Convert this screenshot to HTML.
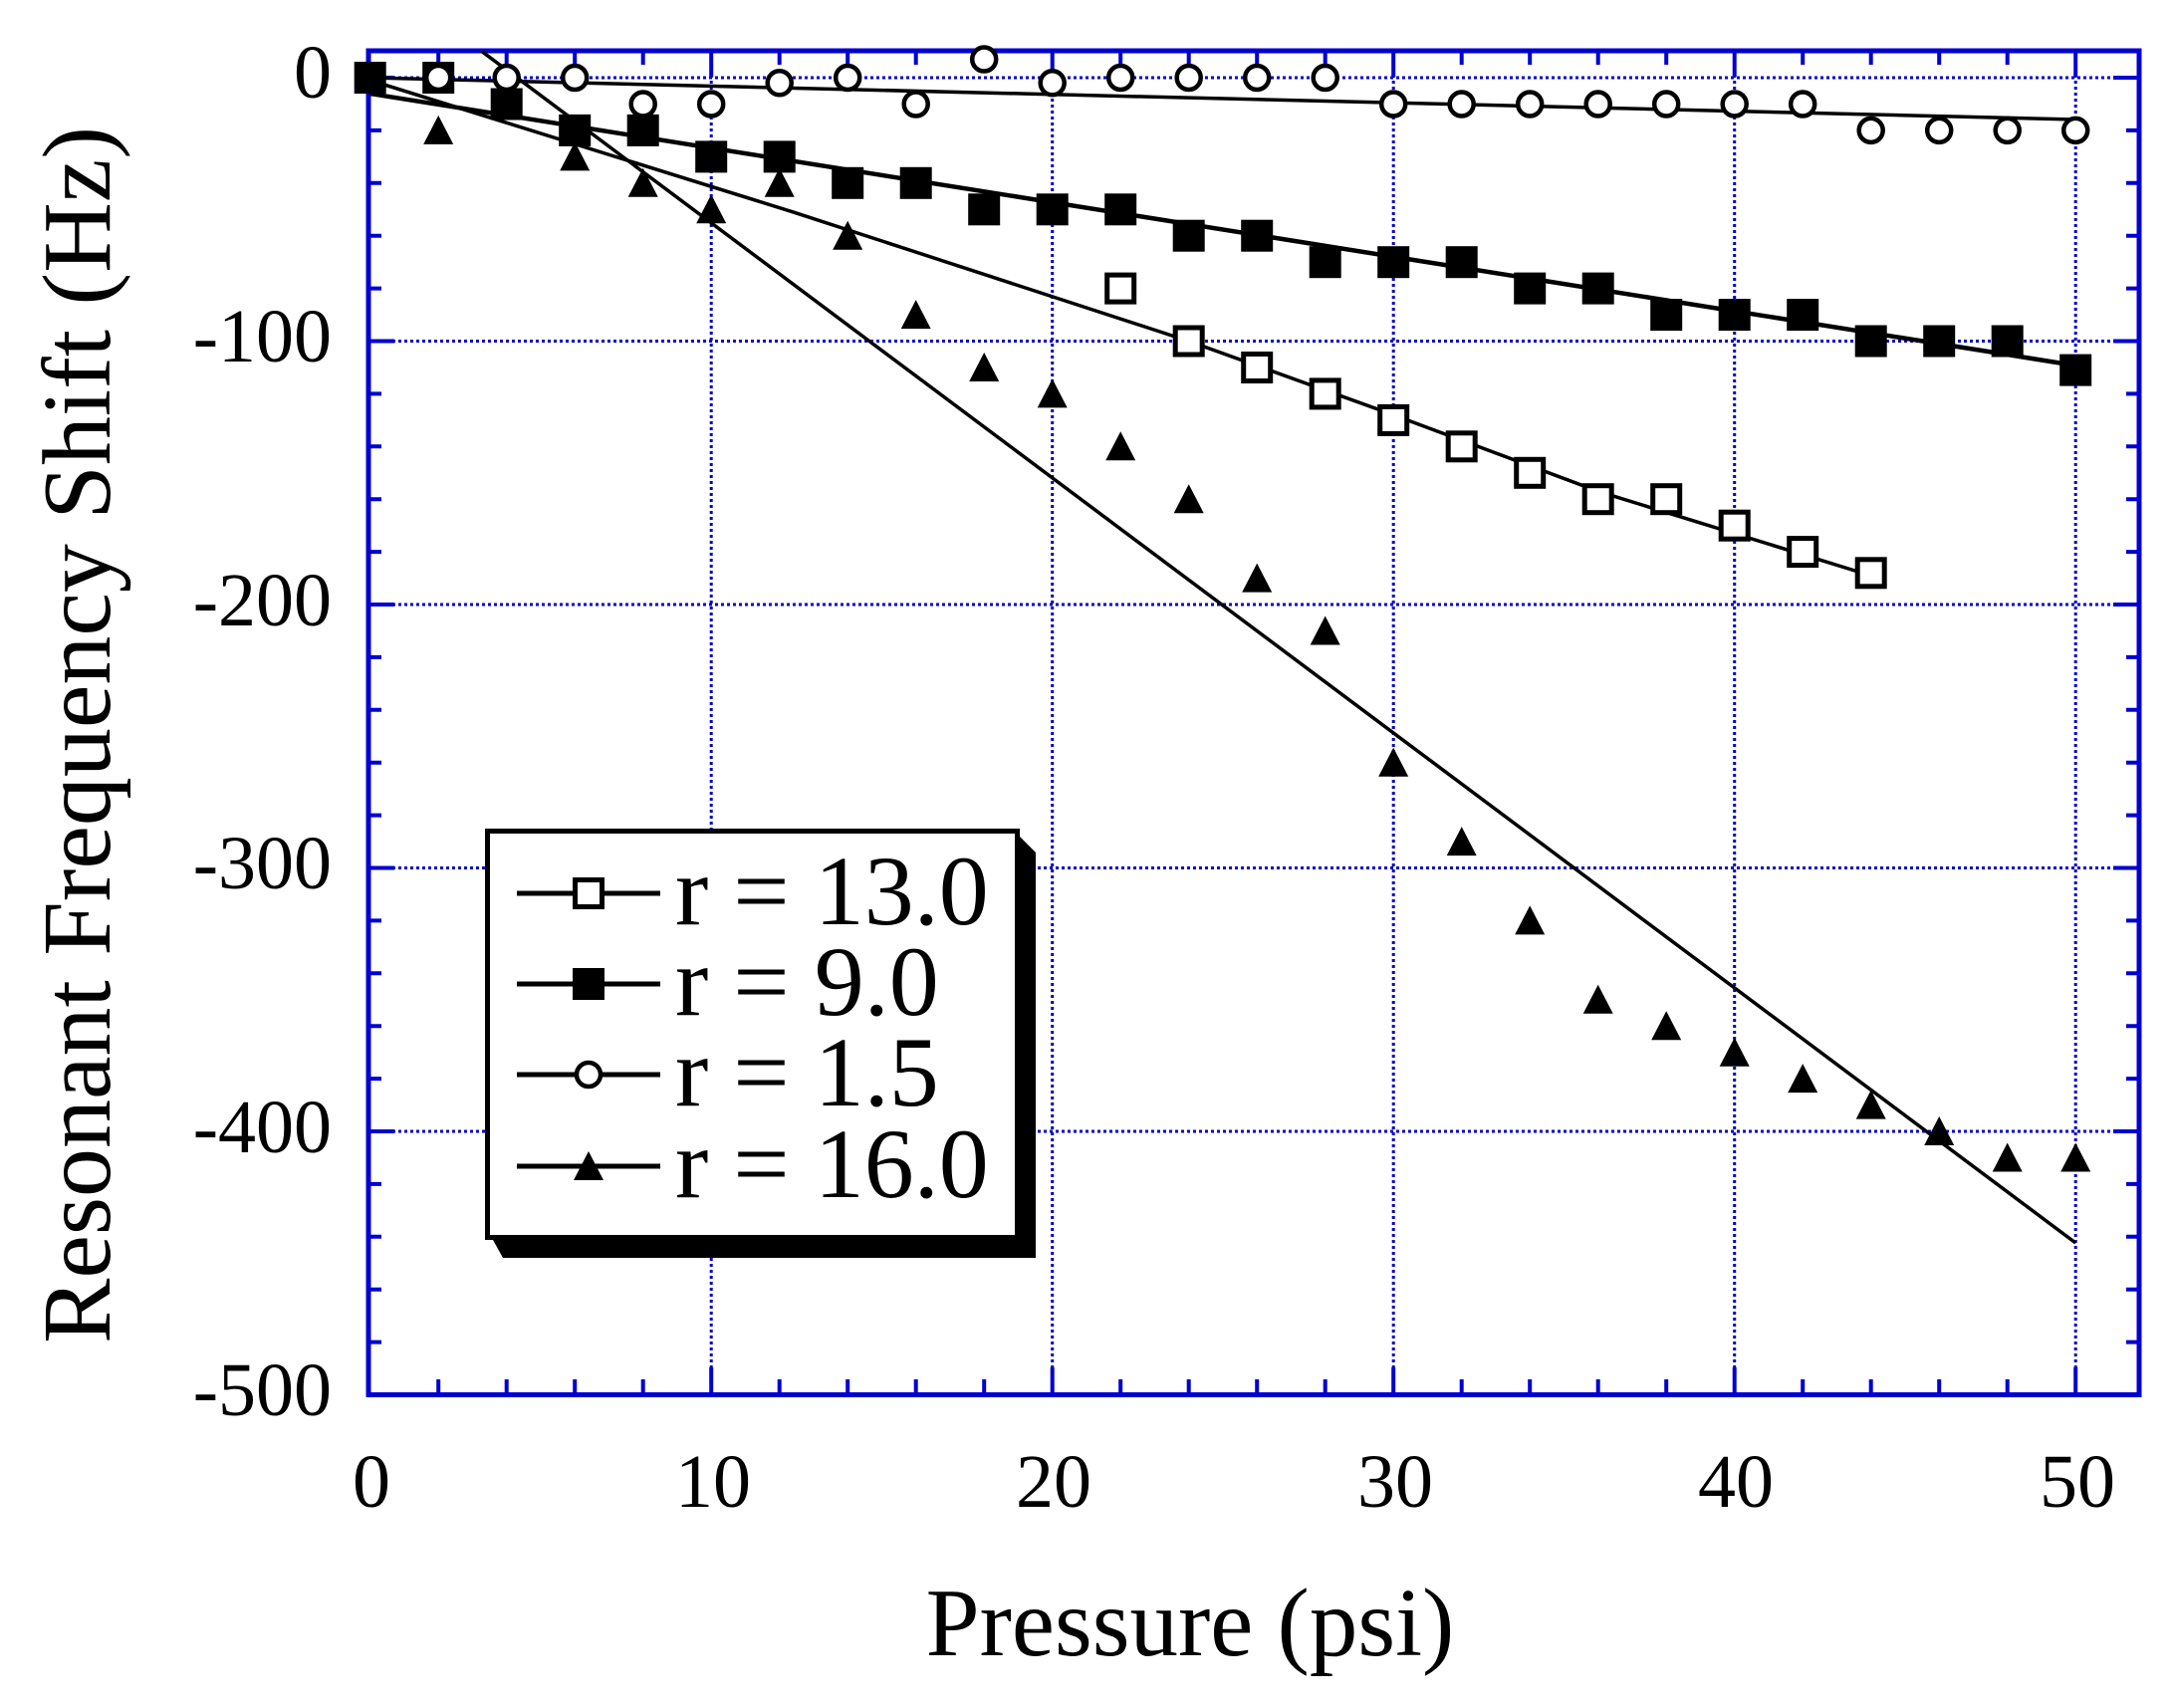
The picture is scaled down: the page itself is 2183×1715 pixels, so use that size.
<!DOCTYPE html>
<html><head><meta charset="utf-8"><style>
html,body{margin:0;padding:0;background:#fff;}
svg{display:block;}
text{font-family:"Liberation Serif",serif;fill:#000;}
</style></head><body>
<svg width="2183" height="1715" viewBox="0 0 2183 1715" xmlns="http://www.w3.org/2000/svg">
<defs>
<rect id="sqf" x="-16" y="-16" width="32" height="32" fill="#000"/>
<rect id="sqo" x="-13.5" y="-13.5" width="27" height="27" fill="#fff" stroke="#000" stroke-width="5"/>
<circle id="ci" r="12" fill="#fff" stroke="#000" stroke-width="4.5"/>
<polygon id="tr" points="0,-15 15,14 -15,14" fill="#000"/>
</defs>
<!-- grid -->
<g stroke="#0000d0" stroke-width="3" stroke-dasharray="3,3" fill="none">
<line x1="714.2" y1="51" x2="714.2" y2="1400"/>
<line x1="1056.7" y1="51" x2="1056.7" y2="1400"/>
<line x1="1399.2" y1="51" x2="1399.2" y2="1400"/>
<line x1="1741.7" y1="51" x2="1741.7" y2="1400"/>
<line x1="2084.2" y1="51" x2="2084.2" y2="1400"/>
<line x1="370" y1="78" x2="2148" y2="78"/>
<line x1="370" y1="342.5" x2="2148" y2="342.5"/>
<line x1="370" y1="607" x2="2148" y2="607"/>
<line x1="370" y1="871.5" x2="2148" y2="871.5"/>
<line x1="370" y1="1136" x2="2148" y2="1136"/>
</g>
<!-- ticks -->
<g stroke="#0000d0" stroke-width="4">
<path d="M440.2 1400v-15M508.7 1400v-15M577.2 1400v-15M645.7 1400v-15M714.2 1400v-27M782.7 1400v-15M851.2 1400v-15M919.7 1400v-15M988.2 1400v-15M1056.7 1400v-27M1125.2 1400v-15M1193.7 1400v-15M1262.2 1400v-15M1330.7 1400v-15M1399.2 1400v-27M1467.7 1400v-15M1536.2 1400v-15M1604.7 1400v-15M1673.2 1400v-15M1741.7 1400v-27M1810.2 1400v-15M1878.7 1400v-15M1947.2 1400v-15M2015.7 1400v-15M2084.2 1400v-27"/>
<path d="M440.2 51v14M508.7 51v14M577.2 51v14M645.7 51v14M714.2 51v26M782.7 51v14M851.2 51v14M919.7 51v14M988.2 51v14M1056.7 51v26M1125.2 51v14M1193.7 51v14M1262.2 51v14M1330.7 51v14M1399.2 51v26M1467.7 51v14M1536.2 51v14M1604.7 51v14M1673.2 51v14M1741.7 51v26M1810.2 51v14M1878.7 51v14M1947.2 51v14M2015.7 51v14M2084.2 51v26"/>
<path d="M370 78h26M370 130.9h13M370 183.8h13M370 236.7h13M370 289.6h13M370 342.5h26M370 395.4h13M370 448.3h13M370 501.2h13M370 554.1h13M370 607h26M370 659.9h13M370 712.8h13M370 765.7h13M370 818.6h13M370 871.5h26M370 924.4h13M370 977.3h13M370 1030.2h13M370 1083.1h13M370 1136h26M370 1188.9h13M370 1241.8h13M370 1294.7h13M370 1347.6h13"/>
<path d="M2148 78h-26M2148 130.9h-13M2148 183.8h-13M2148 236.7h-13M2148 289.6h-13M2148 342.5h-26M2148 395.4h-13M2148 448.3h-13M2148 501.2h-13M2148 554.1h-13M2148 607h-26M2148 659.9h-13M2148 712.8h-13M2148 765.7h-13M2148 818.6h-13M2148 871.5h-26M2148 924.4h-13M2148 977.3h-13M2148 1030.2h-13M2148 1083.1h-13M2148 1136h-26M2148 1188.9h-13M2148 1241.8h-13M2148 1294.7h-13M2148 1347.6h-13"/>
</g>
<rect x="370" y="51" width="1778" height="1349.5" fill="none" stroke="#0000d0" stroke-width="5"/>
<!-- fit lines -->
<svg x="370" y="51" width="1778" height="1350" viewBox="370 51 1778 1350" overflow="hidden">
<g stroke="#000" fill="none" stroke-width="3.5">
<line x1="371.7" y1="78" x2="2084.2" y2="120"/>
<line x1="371.7" y1="94" x2="2084.2" y2="367" stroke-width="4.5"/>
<polyline points="371.7,80.6 796.4,212.9 1193.7,342.5 1399.2,416.6 1604.7,493.3 1878.7,578"/>
<line x1="483" y1="51" x2="2084.2" y2="1248"/>
</g>
</svg>
<!-- r=16 triangles -->
<g>
<use href="#tr" x="440.2" y="130.9"/><use href="#tr" x="508.7" y="104.5"/><use href="#tr" x="577.2" y="157.4"/><use href="#tr" x="645.7" y="183.8"/><use href="#tr" x="714.2" y="210.3"/><use href="#tr" x="782.7" y="183.8"/><use href="#tr" x="851.2" y="236.7"/><use href="#tr" x="919.7" y="316.1"/><use href="#tr" x="988.2" y="369"/><use href="#tr" x="1056.7" y="395.4"/><use href="#tr" x="1125.2" y="448.3"/><use href="#tr" x="1193.7" y="501.2"/><use href="#tr" x="1262.2" y="580.6"/><use href="#tr" x="1330.7" y="633.5"/><use href="#tr" x="1399.2" y="765.7"/><use href="#tr" x="1467.7" y="845.1"/><use href="#tr" x="1536.2" y="924.4"/><use href="#tr" x="1604.7" y="1003.8"/><use href="#tr" x="1673.2" y="1030.2"/><use href="#tr" x="1741.7" y="1056.7"/><use href="#tr" x="1810.2" y="1083.1"/><use href="#tr" x="1878.7" y="1109.6"/><use href="#tr" x="1947.2" y="1136"/><use href="#tr" x="2015.7" y="1162.5"/><use href="#tr" x="2084.2" y="1162.5"/>
</g>
<!-- r=13 open squares -->
<g>
<use href="#sqo" x="1125.2" y="289.6"/><use href="#sqo" x="1193.7" y="342.5"/><use href="#sqo" x="1262.2" y="369"/><use href="#sqo" x="1330.7" y="395.4"/><use href="#sqo" x="1399.2" y="421.9"/><use href="#sqo" x="1467.7" y="448.3"/><use href="#sqo" x="1536.2" y="474.8"/><use href="#sqo" x="1604.7" y="501.2"/><use href="#sqo" x="1673.2" y="501.2"/><use href="#sqo" x="1741.7" y="527.7"/><use href="#sqo" x="1810.2" y="554.1"/><use href="#sqo" x="1878.7" y="575.3"/>
</g>
<!-- r=9 filled squares -->
<g>
<use href="#sqf" x="371.7" y="78"/><use href="#sqf" x="440.2" y="78"/><use href="#sqf" x="508.7" y="104.5"/><use href="#sqf" x="577.2" y="130.9"/><use href="#sqf" x="645.7" y="130.9"/><use href="#sqf" x="714.2" y="157.4"/><use href="#sqf" x="782.7" y="157.4"/><use href="#sqf" x="851.2" y="183.8"/><use href="#sqf" x="919.7" y="183.8"/><use href="#sqf" x="988.2" y="210.3"/><use href="#sqf" x="1056.7" y="210.3"/><use href="#sqf" x="1125.2" y="210.3"/><use href="#sqf" x="1193.7" y="236.7"/><use href="#sqf" x="1262.2" y="236.7"/><use href="#sqf" x="1330.7" y="263.2"/><use href="#sqf" x="1399.2" y="263.2"/><use href="#sqf" x="1467.7" y="263.2"/><use href="#sqf" x="1536.2" y="289.6"/><use href="#sqf" x="1604.7" y="289.6"/><use href="#sqf" x="1673.2" y="316.1"/><use href="#sqf" x="1741.7" y="316.1"/><use href="#sqf" x="1810.2" y="316.1"/><use href="#sqf" x="1878.7" y="342.5"/><use href="#sqf" x="1947.2" y="342.5"/><use href="#sqf" x="2015.7" y="342.5"/><use href="#sqf" x="2084.2" y="371.6"/>
</g>
<!-- r=1.5 circles -->
<g>
<use href="#ci" x="440.2" y="78"/><use href="#ci" x="508.7" y="78"/><use href="#ci" x="577.2" y="78"/><use href="#ci" x="645.7" y="104.5"/><use href="#ci" x="714.2" y="104.5"/><use href="#ci" x="782.7" y="83.3"/><use href="#ci" x="851.2" y="78"/><use href="#ci" x="919.7" y="104.5"/><use href="#ci" x="988.2" y="59.5"/><use href="#ci" x="1056.7" y="83.3"/><use href="#ci" x="1125.2" y="78"/><use href="#ci" x="1193.7" y="78"/><use href="#ci" x="1262.2" y="78"/><use href="#ci" x="1330.7" y="78"/><use href="#ci" x="1399.2" y="104.5"/><use href="#ci" x="1467.7" y="104.5"/><use href="#ci" x="1536.2" y="104.5"/><use href="#ci" x="1604.7" y="104.5"/><use href="#ci" x="1673.2" y="104.5"/><use href="#ci" x="1741.7" y="104.5"/><use href="#ci" x="1810.2" y="104.5"/><use href="#ci" x="1878.7" y="130.9"/><use href="#ci" x="1947.2" y="130.9"/><use href="#ci" x="2015.7" y="130.9"/><use href="#ci" x="2084.2" y="130.9"/>
</g>
<!-- tick labels -->
<g font-size="76" text-anchor="end">
<text x="333" y="98">0</text>
<text x="333" y="363">-100</text>
<text x="333" y="628">-200</text>
<text x="333" y="892">-300</text>
<text x="333" y="1157">-400</text>
<text x="333" y="1421">-500</text>
</g>
<g font-size="76" text-anchor="middle">
<text x="373" y="1513">0</text>
<text x="716" y="1513">10</text>
<text x="1058" y="1513">20</text>
<text x="1401" y="1513">30</text>
<text x="1743" y="1513">40</text>
<text x="2086" y="1513">50</text>
</g>
<text x="1195" y="1662" font-size="97" text-anchor="middle">Pressure (psi)</text>
<text transform="translate(110,738) rotate(-90)" font-size="98" text-anchor="middle">Resonant Frequency Shift (Hz)</text>
<!-- legend -->
<polygon points="495,1245 1024,1245 1024,840 1040,856 1040,1263 505,1263" fill="#000"/>
<rect x="489.5" y="834.5" width="532" height="408" fill="#fff" stroke="#000" stroke-width="5"/>
<g stroke="#000" stroke-width="5">
<line x1="519" y1="897" x2="663" y2="897"/>
<line x1="519" y1="988" x2="663" y2="988"/>
<line x1="519" y1="1079" x2="663" y2="1079"/>
<line x1="519" y1="1171" x2="663" y2="1171"/>
</g>
<use href="#sqo" x="591" y="897"/>
<use href="#sqf" x="591" y="988"/>
<use href="#ci" x="591" y="1079"/>
<use href="#tr" x="591" y="1171"/>
<g font-size="100">
<text x="678" y="928">r = 13.0</text>
<text x="678" y="1019">r = 9.0</text>
<text x="678" y="1110">r = 1.5</text>
<text x="678" y="1202">r = 16.0</text>
</g>
</svg>
</body></html>
